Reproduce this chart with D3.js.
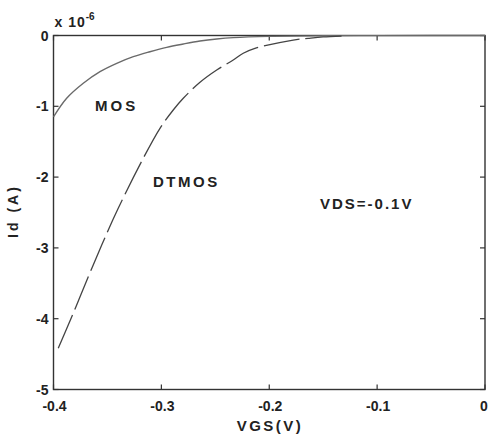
<!DOCTYPE html>
<html>
<head>
<meta charset="utf-8">
<script src="https://cdn.jsdelivr.net/npm/d3@7"></script>
<style>
  body { margin: 0; background: #fff; }
  text { font-family: "Liberation Sans", Arial, sans-serif; font-weight: bold; fill: #222; }
</style>
</head>
<body>
<div id="chart"></div>
<script>
// data (Id in units of 1e-6 A)
const mosVgs = [-0.4, -0.3878, -0.3724, -0.3569, -0.3414, -0.326, -0.3106, -0.2951, -0.2797, -0.2642, -0.2487, -0.2334, -0.2, -0.15, -0.1, -0.05, 0];
const mosId = [-1.15, -0.887, -0.675, -0.511, -0.393, -0.299, -0.229, -0.167, -0.120, -0.078, -0.049, -0.03, -0.012, -0.004, -0.002, -0.001, 0];

const dtVgs = [-0.3956, -0.3817, -0.3754, -0.3553, -0.34, -0.3168, -0.3013, -0.289, -0.2797, -0.2642, -0.2487, -0.2334, -0.2241, -0.2133, -0.1778, -0.1639, -0.15, -0.128];
const dtId = [-4.418, -3.924, -3.689, -2.959, -2.44, -1.734, -1.311, -1.052, -0.887, -0.66, -0.487, -0.346, -0.25, -0.181, -0.064, -0.04, -0.02, -0.005];

const xTicks = [-0.4, -0.3, -0.2, -0.1, 0];
const xTickLabels = ["-0.4", "-0.3", "-0.2", "-0.1", "0"];
const yTicks = [0, -1, -2, -3, -4, -5];
const yTickLabels = ["0", "-1", "-2", "-3", "-4", "-5"];

let width = 488;
let height = 437;
let pLeft = 53.5, pRight = 485, pTop = 35.5, pBottom = 389.5;

let svg = d3.select("#chart").append("svg")
    .attr("width", width)
    .attr("height", height);

let x = d3.scaleLinear().domain([-0.4, 0]).range([pLeft, pRight]);
let y = d3.scaleLinear().domain([-5, 0]).range([pBottom, pTop]);

// box
svg.append("rect")
    .attr("x", pLeft).attr("y", pTop)
    .attr("width", pRight - pLeft).attr("height", pBottom - pTop)
    .attr("fill", "none").attr("stroke", "#333").attr("stroke-width", 1.4);

// ticks inward on all four sides
let tickLen = 5;
svg.append("g").selectAll("line").data(xTicks).join("line")
    .attr("x1", d => x(d)).attr("x2", d => x(d))
    .attr("y1", pBottom).attr("y2", pBottom - tickLen)
    .attr("stroke", "#333").attr("stroke-width", 1.2);
svg.append("g").selectAll("line").data(xTicks).join("line")
    .attr("x1", d => x(d)).attr("x2", d => x(d))
    .attr("y1", pTop).attr("y2", pTop + tickLen)
    .attr("stroke", "#333").attr("stroke-width", 1.2);
svg.append("g").selectAll("line").data(yTicks).join("line")
    .attr("x1", pLeft).attr("x2", pLeft + tickLen)
    .attr("y1", d => y(d)).attr("y2", d => y(d))
    .attr("stroke", "#333").attr("stroke-width", 1.2);
svg.append("g").selectAll("line").data(yTicks).join("line")
    .attr("x1", pRight).attr("x2", pRight - tickLen)
    .attr("y1", d => y(d)).attr("y2", d => y(d))
    .attr("stroke", "#333").attr("stroke-width", 1.2);

// tick labels
svg.append("g").selectAll("text").data(xTicks).join("text")
    .attr("x", d => x(d))
    .attr("y", pBottom + 21)
    .attr("text-anchor", "middle")
    .attr("dx", (d, i) => i === xTicks.length - 1 ? -1 : 1)
    .style("font-size", "14px")
    .text((d, i) => xTickLabels[i]);

svg.append("g").selectAll("text").data(yTicks).join("text")
    .attr("x", pLeft - 5)
    .attr("y", d => y(d) + 5)
    .attr("text-anchor", "end")
    .style("font-size", "14px")
    .text((d, i) => yTickLabels[i]);

// exponent
let expo = svg.append("text").attr("x", pLeft + 1).attr("y", 27)
    .style("font-size", "14px").style("letter-spacing", "1px");
expo.append("tspan").text("x 10");
expo.append("tspan").attr("dy", -7).style("font-size", "10px").style("letter-spacing", "0px").text("-6");

// axis titles
svg.append("text")
    .attr("x", 270)
    .attr("y", 431)
    .attr("text-anchor", "middle")
    .style("font-size", "15px")
    .style("letter-spacing", "2.5px")
    .text("VGS(V)");

svg.append("text")
    .attr("transform", "translate(18,211) rotate(-90)")
    .attr("text-anchor", "middle")
    .style("font-size", "14px")
    .style("letter-spacing", "3px")
    .text("Id (A)");

// curves
let line = d3.line()
    .x(d => x(d[0]))
    .y(d => y(d[1]))
    .curve(d3.curveCatmullRom);

svg.append("path")
    .datum(d3.zip(mosVgs, mosId))
    .attr("d", line)
    .attr("fill", "none")
    .attr("stroke", "#6a6a6a")
    .attr("stroke-width", 1.4);

svg.append("path")
    .datum(d3.zip(dtVgs, dtId))
    .attr("d", line)
    .attr("fill", "none")
    .attr("stroke", "#444")
    .attr("stroke-width", 1.3)
    .attr("stroke-dasharray", "36,6");

// annotations
svg.append("text").attr("x", 95).attr("y", 111)
    .style("font-size", "15px").style("letter-spacing", "3px").text("MOS");
svg.append("text").attr("x", 153).attr("y", 187)
    .style("font-size", "15px").style("letter-spacing", "2.5px").text("DTMOS");
svg.append("text").attr("x", 320).attr("y", 209)
    .style("font-size", "15px").style("letter-spacing", "2px").text("VDS=-0.1V");
</script>
</body>
</html>
